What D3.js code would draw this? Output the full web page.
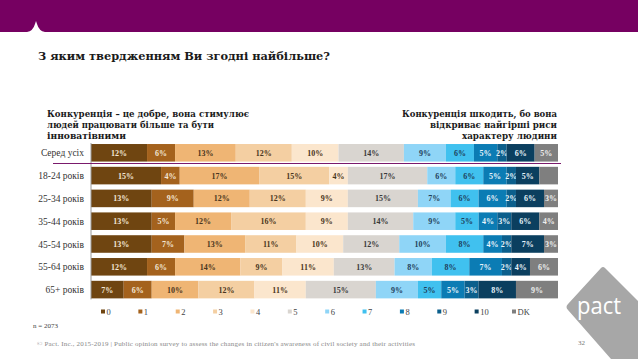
<!DOCTYPE html>
<html><head><meta charset="utf-8">
<script src="https://cdn.jsdelivr.net/npm/d3@7"></script>
<style>body{margin:0;background:#fff}svg{display:block}</style>
</head><body>
<svg id="c" width="638" height="359"></svg>
<script>
const rows = ["Серед усіх","18-24 років","25-34 років","35-44 років","45-54 років","55-64 років","65+ років"];
const cats = ["0","1","2","3","4","5","6","7","8","9","10","DK"];
const vals0  = [12,15,13,13,13,12,7];
const vals1  = [6,4,9,5,7,6,6];
const vals2  = [13,17,12,12,13,14,10];
const vals3  = [12,15,12,16,11,9,12];
const vals4  = [10,4,9,9,10,11,11];
const vals5  = [14,17,15,14,12,13,15];
const vals6  = [9,6,7,9,10,8,9];
const vals7  = [6,6,6,5,8,8,5];
const vals8  = [5,5,6,4,4,7,5];
const vals9  = [2,2,2,3,2,2,3];
const vals10 = [6,5,6,6,7,4,8];
const valsDK = [5,4,3,4,3,6,9];
const showDK = [true,false,true,true,true,true,true];
const series = [vals0,vals1,vals2,vals3,vals4,vals5,vals6,vals7,vals8,vals9,vals10,valsDK];
const colors = ["#6f4511","#a4621d","#efb574","#f4cfa2","#fbe6cd","#d9d5d0","#8fd5f7","#40c1ef","#0b7cb4","#0b5f8c","#0b3f5f","#7f7f7f"];
const textCol = ["#f3e6d6","#f3e6d6","#4a3520","#4a3520","#4a3520","#3a3a3a","#1f3f5a","#1f3f5a","#e8f4fb","#e8f4fb","#e8f4fb","#eeeeee"];

const svg = d3.select("#c");
const serif = "'Liberation Serif', 'DejaVu Serif', serif";
const wide = "'DejaVu Serif', 'Liberation Serif', serif";

// header band
svg.append("rect").attr("x",0).attr("y",0).attr("width",638).attr("height",32).attr("fill","#760061");
svg.append("path").attr("d","M27,32 Q33,31 35,24 L36,21 L37,24 Q39,31 45,32 Z").attr("fill","#fff");

svg.append("text").attr("x",38).attr("y",60).attr("font-family",wide).attr("font-weight","bold")
  .attr("font-size",11.5).attr("fill","#1a1a1a").attr("textLength",292).attr("lengthAdjust","spacingAndGlyphs")
  .text("З яким твердженням Ви згодні найбільше?");

const leftLines = ["Конкуренція – це добре, вона стимулює","людей працювати більше та бути","інноватівними"];
const leftLen = [202,167,79];
const rightLines = ["Конкуренція шкодить, бо вона","відкриває найгірші риси","характеру людини"];
const rightLen = [155,127,95];
leftLines.forEach((t,i)=>svg.append("text").attr("x",47).attr("y",117+i*11).attr("font-family",wide)
  .attr("font-weight","bold").attr("font-size",9.5).attr("fill","#1a1a1a")
  .attr("textLength",leftLen[i]).attr("lengthAdjust","spacingAndGlyphs").text(t));
rightLines.forEach((t,i)=>svg.append("text").attr("x",557-rightLen[i]).attr("y",117+i*11)
  .attr("font-family",wide).attr("font-weight","bold").attr("font-size",9.5).attr("fill","#1a1a1a")
  .attr("textLength",rightLen[i]).attr("lengthAdjust","spacingAndGlyphs").text(t));

const x = d3.scaleLinear().domain([0,100]).range([91,558]);
const y = d3.scaleBand().domain(rows).range([141.4,301]).paddingInner(0.23).paddingOuter(0.115);

rows.forEach((r,ri)=>{
  let acc = 0;
  series.forEach((s,ci)=>{
    const v = s[ri];
    const x0 = x(acc), x1 = x(acc+v);
    svg.append("rect").attr("x",x0).attr("y",y(r)).attr("width",x1-x0).attr("height",y.bandwidth()).attr("fill",colors[ci]);
    if (ci < 11 || showDK[ri]) {
      svg.append("text").attr("x",(x0+x1)/2).attr("y",y(r)+y.bandwidth()/2+3)
        .attr("text-anchor","middle").attr("font-family",serif).attr("font-weight","bold")
        .attr("font-size",8).attr("fill",textCol[ci]).text(v+"%");
    }
    acc += v;
  });
  svg.append("text").attr("x",84).attr("y",y(r)+y.bandwidth()/2+3.5).attr("text-anchor","end")
    .attr("font-family",serif).attr("font-size",9.5).attr("fill","#333").text(r);
});

// axis line
svg.append("line").attr("x1",91).attr("x2",91).attr("y1",y(rows[0])-1).attr("y2",y(rows[6])+y.bandwidth()+1)
  .attr("stroke","#9a9a9a").attr("stroke-width",1);
// purple separator
svg.append("line").attr("x1",53).attr("x2",561).attr("y1",163.5).attr("y2",163.5).attr("stroke","#7a1a6c").attr("stroke-width",1.2);

// legend
const lx = d3.scalePoint().domain(cats).range([101,512]);
cats.forEach((c,i)=>{
  svg.append("rect").attr("x",lx(c)).attr("y",309.5).attr("width",4).attr("height",4).attr("fill",colors[i]);
  svg.append("text").attr("x",lx(c)+5.5).attr("y",314.5).attr("font-family",serif).attr("font-size",8.5).attr("fill","#444").text(c);
});

svg.append("text").attr("x",33).attr("y",328).attr("font-family",serif).attr("font-size",7).attr("fill","#444").text("n = 2073");
svg.append("text").attr("x",37).attr("y",346).attr("font-family",serif).attr("font-size",7).attr("fill","#888")
  .attr("textLength",378).attr("lengthAdjust","spacing")
  .text("© Pact. Inc., 2015-2019 | Public opinion survey to assess the changes in citizen's awareness of civil society and their activities");

// logo
svg.append("path").attr("d","M601,268 Q603,266 605,268 L638,301 L638,359 L611,359 L568,310 Q565,307 568,304 Z")
  .attr("fill","#a7a7a7");
svg.append("text").attr("x",577).attr("y",314).attr("font-family","'Open Sans', sans-serif").attr("font-size",23)
  .attr("fill","#fff").attr("textLength",44).attr("lengthAdjust","spacingAndGlyphs").text("pact");
svg.append("text").attr("x",578).attr("y",345).attr("font-family",serif).attr("font-size",7).attr("fill","#777").text("32");
</script>
</body></html>
